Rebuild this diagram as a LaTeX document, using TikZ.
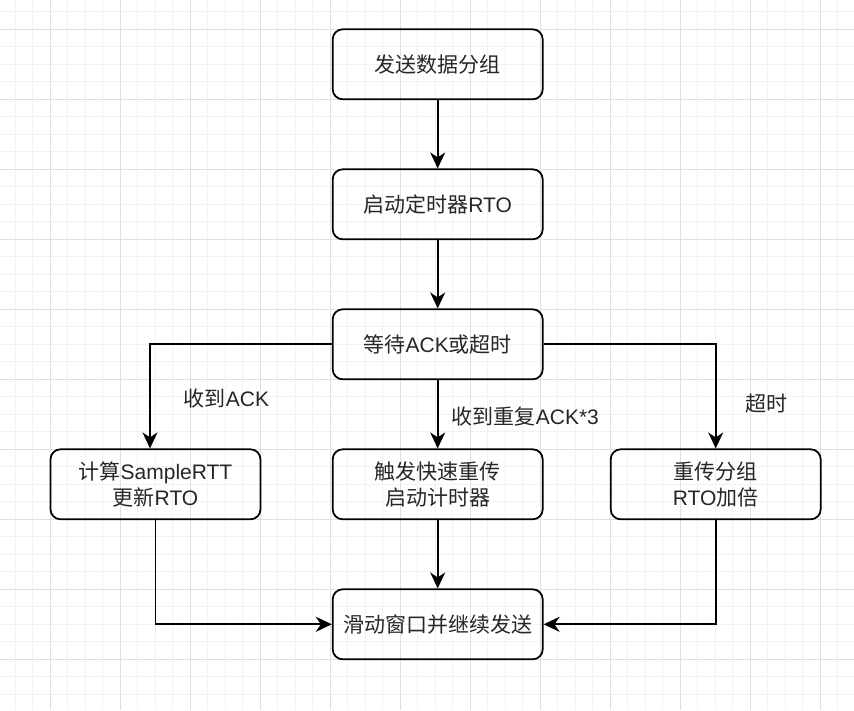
\documentclass[tikz,border=0pt]{standalone}
\usepackage{fontspec}
\setmainfont{Liberation Sans}
\newfontfamily\cjkfont{Noto Sans CJK SC}
\newcommand{\zh}[1]{{\cjkfont #1}}
\usetikzlibrary{arrows.meta}
\definecolor{gridminor}{HTML}{F2F2F2}
\definecolor{gridmajor}{HTML}{E0E0E0}

\begin{document}
\begin{tikzpicture}[x=1pt,y=-1pt,
  box/.style={draw, rounded corners=10pt, line width=1.75pt, minimum width=210pt,
    minimum height=70pt, align=center, text=black!85,
    font=\fontsize{21}{25.5}\selectfont},
  flow/.style={line width=1.75pt, -{Stealth[length=16pt,width=15pt,inset=5pt]}},
  lbl/.style={inner sep=0pt, text=black!85, font=\fontsize{21}{25.5}\selectfont}]
  \useasboundingbox (0,0) rectangle (854,710);

  % Background grid
  \foreach \i in {-2,...,46}
    \draw[gridminor, line width=1pt] (50+17.5*\i,0) -- (50+17.5*\i,710);
  \foreach \j in {-1,...,39}
    \draw[gridminor, line width=1pt] (0,29.3+17.5*\j) -- (854,29.3+17.5*\j);
  \foreach \i in {-1,...,12}
    \draw[gridmajor, line width=1pt] (50+70*\i,0) -- (50+70*\i,710);
  \foreach \j in {0,...,10}
    \draw[gridmajor, line width=1pt] (0,29.3+70*\j) -- (854,29.3+70*\j);

  % Steps
  \node[box] (send) at (437.7,64.3) {\zh{发送数据分组}};
  \node[box] (timer) at (437.7,204.3) {\zh{启动定时器}RTO};
  \node[box] (wait) at (437.7,344.3) {\zh{等待}ACK\zh{或超时}};
  \node[box] (calc) at (155.5,484.3) {\zh{计算}SampleRTT\\\zh{更新}RTO};
  \node[box] (fast) at (437.7,484.3) {\zh{触发快速重传}\\\zh{启动计时器}};
  \node[box] (resend) at (715.7,484.3) {\zh{重传分组}\\RTO\zh{加倍}};
  \node[box] (slide) at (437.7,624.3) {\zh{滑动窗口并继续发送}};

  % Branch labels
  \node[lbl] (lack) at (226.5,399) {\zh{收到}ACK};
  \node[lbl, anchor=west] (ldup) at (451.7,416.7) {\zh{收到重复}ACK*3};
  \node[lbl] (lout) at (766.7,404) {\zh{超时}};

  % Connectors
  \draw[flow] (send) -- (timer);
  \draw[flow] (timer) -- (wait);
  \draw[flow] (wait.west) -| ([xshift=-5.5pt]calc.north);
  \draw[flow] (wait) -- (fast);
  \draw[flow] (wait.east) -| (resend.north);
  \draw[flow] (calc.south) |- (slide.west);
  \draw[flow] (fast) -- (slide);
  \draw[flow] (resend.south) |- (slide.east);
\end{tikzpicture}
\end{document}
